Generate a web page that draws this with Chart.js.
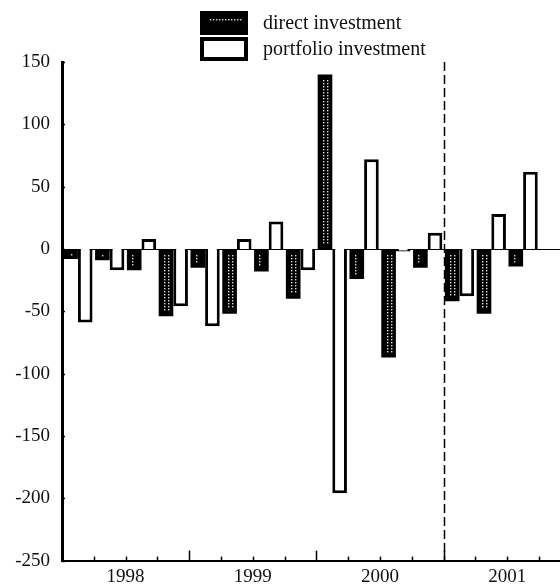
<!DOCTYPE html>
<html><head><meta charset="utf-8">
<script src="https://cdn.jsdelivr.net/npm/chart.js@4"></script>
<style>html,body{margin:0;padding:0;background:#fff}#wrap{width:560px;height:584px;position:relative}</style>
</head><body><div id="wrap"><canvas id="c"></canvas></div>
<script>
// ---- data ----
const quarterLabels = ['1998 Q1','1998 Q2','1998 Q3','1998 Q4','1999 Q1','1999 Q2','1999 Q3','1999 Q4','2000 Q1','2000 Q2','2000 Q3','2000 Q4','2001 Q1','2001 Q2','2001 Q3'];
const directInvestment    = [-8, -9, -17, -54, -15, -52, -18, -40, 140, -24, -87, -15, -42, -52, -14];
const portfolioInvestment = [-59, -17, 8, -46, -62, 8, 22, -17, -196, 72, -2, 13, -38, 28, 62];
const yearLabels = ['1998','1999','2000','2001'];
const yTicks = [150, 100, 50, 0, -50, -100, -150, -200, -250];
const seriesNames = ['direct investment', 'portfolio investment'];

const FONT = 'Liberation Serif, "Times New Roman", serif';
const toPoints = arr => arr.map((v, i) => ({x: i + 0.5, y: v}));

const decor = {
  id: 'decor',
  beforeDatasetsDraw(chart) {
    const {ctx, chartArea: a, scales: {x, y}} = chart;
    ctx.save();
    ctx.strokeStyle = '#000'; ctx.lineWidth = 1;
    const y0 = Math.round(y.getPixelForValue(0)) + 0.5;
    ctx.beginPath(); ctx.moveTo(a.left, y0); ctx.lineTo(a.right, y0); ctx.stroke();
    ctx.restore();
  },
  afterDatasetsDraw(chart) {
    const {ctx, chartArea: a, scales: {x, y}} = chart;
    ctx.save();
    // white dot columns inside the black bars
    ctx.fillStyle = '#e0e0e0';
    chart.getDatasetMeta(0).data.forEach(bar => {
      const top = Math.min(bar.y, bar.base), bot = Math.max(bar.y, bar.base);
      const h = bot - top;
      const cx = Math.round(bar.x);
      if (h < 14) { ctx.fillRect(cx, Math.round(top + h / 2), 1.4, 1.4); return; }
      for (let yy = top + 6; yy < bot - 5; yy += 3) {
        ctx.fillRect(cx - 2, Math.round(yy), 1.4, 1.4);
        if (h > 30) ctx.fillRect(cx + 2, Math.round(yy), 1.4, 1.4);
      }
    });
    // tick marks pointing inward
    ctx.strokeStyle = '#000'; ctx.lineWidth = 1.5;
    x.ticks.forEach(t => {
      const px = Math.round(x.getPixelForValue(t.value)) + 0.5;
      const len = t.value % 4 === 0 ? 10 : 4;
      ctx.beginPath(); ctx.moveTo(px, a.bottom); ctx.lineTo(px, a.bottom - len); ctx.stroke();
    });
    y.ticks.forEach(t => {
      const py = Math.round(y.getPixelForValue(t.value)) + 0.5;
      ctx.beginPath(); ctx.moveTo(a.left, py); ctx.lineTo(a.left + 3, py); ctx.stroke();
    });
    // dashed separator at start of 2001
    const dx = Math.round(x.getPixelForValue(12)) + 0.5;
    ctx.setLineDash([9, 4]); ctx.lineWidth = 1.5;
    ctx.beginPath(); ctx.moveTo(dx, a.top); ctx.lineTo(dx, a.bottom); ctx.stroke();
    ctx.setLineDash([]);
    ctx.restore();
  },
  afterDraw(chart) {
    const {ctx} = chart;
    ctx.save();
    const bx = 200, bw = 48, bh = 24;
    const rows = [11, 37];
    // black box
    ctx.fillStyle = '#000';
    ctx.fillRect(bx, rows[0], bw, bh);
    ctx.fillStyle = '#e0e0e0';
    for (let xx = bx + 10; xx < bx + bw - 6; xx += 3) ctx.fillRect(xx, rows[0] + 8, 1.4, 1.4);
    // white box
    ctx.fillStyle = '#000';
    ctx.fillRect(bx, rows[1], bw, bh);
    ctx.fillStyle = '#fff';
    ctx.fillRect(bx + 4, rows[1] + 4, bw - 8, bh - 8);
    ctx.fillStyle = '#111';
    ctx.font = '20px ' + FONT;
    ctx.textBaseline = 'middle';
    chart.data.datasets.forEach((ds, i) => ctx.fillText(ds.label, bx + 63, rows[i] + bh / 2 + 1));
    ctx.restore();
  }
};

new Chart(document.getElementById('c'), {
  type: 'bar',
  data: {
    labels: quarterLabels,
    datasets: [
      {label: seriesNames[0], data: toPoints(directInvestment), backgroundColor: '#000', borderColor: '#000', borderWidth: 0,
       categoryPercentage: 0.92, barPercentage: 1},
      {label: seriesNames[1], data: toPoints(portfolioInvestment), backgroundColor: '#fff', borderColor: '#000', borderWidth: 3,
       categoryPercentage: 0.92, barPercentage: 1}
    ]
  },
  options: {
    responsive: true, maintainAspectRatio: false, animation: false,
    layout: {padding: {top: 62, right: 0, left: 0, bottom: 0}},
    plugins: {legend: {display: false}, tooltip: {enabled: false}},
    scales: {
      x: {
        type: 'linear', min: 0, max: 15.66, position: 'bottom', offset: false,
        grid: {display: false, drawTicks: false, offset: false},
        border: {display: true, color: '#000', width: 2},
        afterBuildTicks: s => { s.ticks = quarterLabels.map((q, i) => ({value: i + 1})); },
        ticks: {autoSkip: false, maxRotation: 0, padding: 5, color: '#111', font: {family: FONT, size: 19},
          callback: v => ((v - 2) % 4 === 0 ? yearLabels[(v - 2) / 4] : '')},
        afterFit: s => { s.height = 22; }
      },
      y: {
        min: -250, max: 150,
        afterBuildTicks: s => { s.ticks = yTicks.map(v => ({value: v})); },
        grid: {display: false, drawTicks: false},
        border: {display: true, color: '#000', width: 3},
        ticks: {padding: 12, color: '#111', font: {family: FONT, size: 19}},
        afterFit: s => { s.width = 62; }
      }
    }
  },
  plugins: [decor]
});
</script></body></html>
